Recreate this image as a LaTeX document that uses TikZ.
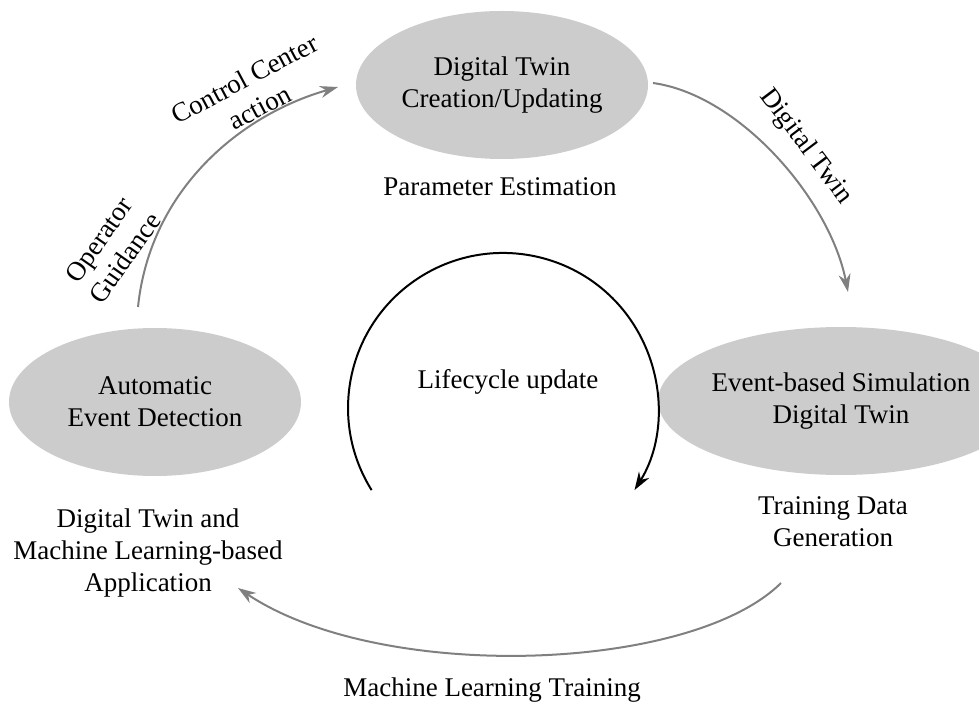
\documentclass[tikz,border=0pt]{standalone}
\usepackage{fontspec}
\setmainfont{Liberation Serif}
\usepackage{xcolor}
\usepackage{tikz}
\usetikzlibrary{shapes.geometric,arrows.meta,positioning}
\definecolor{ellgray}{RGB}{204,204,204}
\definecolor{flowgray}{RGB}{128,128,128}

\begin{document}
\begin{tikzpicture}[x=1pt,y=1pt,
	every node/.style={font=\fontsize{27}{32}\selectfont,align=center},
	stage/.style={ellipse,fill=ellgray,minimum width=292pt,minimum height=148pt,inner sep=0pt},
	flow/.style={flowgray,line width=2pt,-{Stealth[length=18pt,width=12pt]}},
	cycle/.style={black,line width=2pt,-{Stealth[length=18pt,width=12pt]}}]
	\useasboundingbox (0,0) rectangle (979,705);
	\node[stage] (dtcreate) at (502,620) {Digital Twin\\Creation/Updating};
	\node[stage] (autodetect) at (155,303) {Automatic\\Event Detection};
	\node[stage] (eventsim) at (841,304) {Event-based Simulation\\Digital Twin};
	\node (paramest) at (500,518) {Parameter Estimation};
	\node (tdgen) at (833,183) {Training Data\\Generation};
	\node (dtapp) at (148,152) {Digital Twin and\\Machine Learning-based\\Application};
	\node (mltrain) at (492,15) {Machine Learning Training};
	\node (lifecycle) at (508,323) {Lifecycle update};
	\node[rotate=28] (ccaction) at (252,612) {Control Center\\action};
	\node[rotate=55] (opguide) at (112,456) {Operator\\Guidance};
	\node[rotate=-53] (dtflow) at (806,558) {Digital Twin};
	\coordinate (ad-out) at (138,398);
	\coordinate (dc-in) at (338,618);
	\coordinate (dc-out) at (653,622);
	\coordinate (es-in) at (848,413);
	\coordinate (td-out) at (781,122);
	\coordinate (ap-in) at (238,117);
	\coordinate (lc-start) at (371.6,214.9);
	\draw[flow] (ad-out) .. controls (150,515) and (240,590) .. (dc-in);
	\draw[flow] (dc-out) .. controls (740,610) and (830,505) .. (es-in);
	\draw[flow] (td-out) .. controls (690,32) and (380,22) .. (ap-in);
	\draw[cycle] (lc-start) arc[start angle=212,end angle=-32,radius=155];
\end{tikzpicture}
\end{document}
